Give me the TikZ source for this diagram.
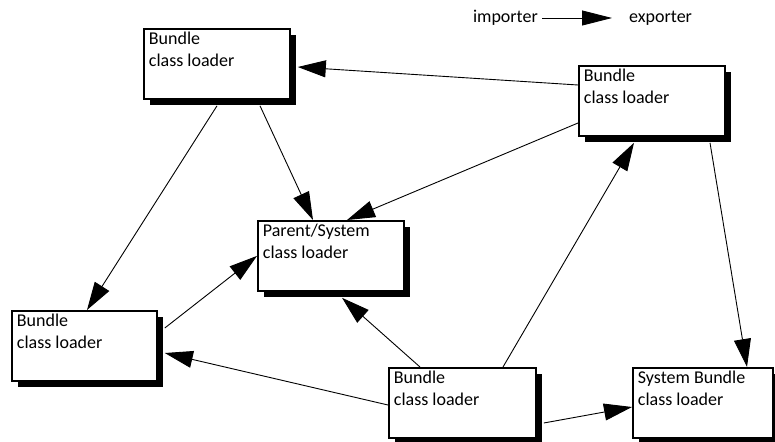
\documentclass[tikz,border=0pt]{standalone}
\usepackage{fontspec}
\setmainfont{Carlito}
\usetikzlibrary{arrows.meta,shadows}
\begin{document}
\begin{tikzpicture}[x=1pt,y=-1pt,
  box/.style={draw,line width=1.8pt,fill=white,anchor=north west,inner xsep=5pt,inner ysep=3pt,
    drop shadow={shadow xshift=6.5pt,shadow yshift=-6.5pt,fill=black,opacity=1}},
  conn/.style={line width=0.9pt,-{Triangle[length=28pt,width=17pt]}},
  lbl/.style={font=\fontsize{18}{22}\selectfont}
]
\useasboundingbox[fill=white] (0,0) rectangle (775,441);
\newcommand{\boxtext}[2]{\parbox[t][64pt][t]{#1}{\fontsize{18}{22}\selectfont #2}}
\node[box] (A) at (143,28) {\boxtext{136pt}{Bundle\\class loader}};
\node[box] (B) at (578,65) {\boxtext{136pt}{Bundle\\class loader}};
\node[box] (P) at (257,220) {\boxtext{136pt}{Parent/System\\class loader}};
\node[box] (L) at (11,310) {\boxtext{135pt}{Bundle\\class loader}};
\node[box] (C) at (388,367) {\boxtext{137pt}{Bundle\\class loader}};
\node[box] (S) at (632,367) {\boxtext{130pt}{System Bundle\\class loader}};
% legend
\node[lbl,anchor=east,inner sep=0pt] (imp) at (538,18) {importer};
\node[lbl,anchor=west,inner sep=0pt] (exp) at (629,18) {exporter};
\draw[conn,-{Triangle[length=30pt,width=15pt]}] ([xshift=4pt]imp.east) -- ([xshift=-17pt]exp.west);
% connectors
\draw[conn] ([yshift=-20pt]B.north west) -- ([xshift=7pt,yshift=-39pt]A.north east);
\draw[conn] ([xshift=117pt,yshift=-6pt]A.south west) -- ([xshift=56pt]P.north west);
\draw[conn] ([xshift=74pt,yshift=-6pt]A.south west) -- ([xshift=76pt]L.north west);
\draw[conn] ([yshift=-58pt]B.north west) -- ([xshift=90pt]P.north west);
\draw[conn] ([xshift=7pt,yshift=-18pt]L.north east) -- (P.west);
\draw[conn] ([xshift=32pt]C.north west) -- ([xshift=85pt,yshift=-6pt]P.south west);
\draw[conn] ([yshift=-38pt]C.north west) -- ([xshift=7pt,yshift=-43pt]L.north east);
\draw[conn] ([xshift=115pt]C.north west) -- ([xshift=56pt,yshift=-6pt]B.south west);
\draw[conn] ([xshift=132pt,yshift=-6pt]B.south west) -- ([xshift=115pt]S.north west);
\draw[conn] ([xshift=7pt,yshift=-56pt]C.north east) -- ([yshift=-40pt]S.north west);
\end{tikzpicture}
\end{document}
